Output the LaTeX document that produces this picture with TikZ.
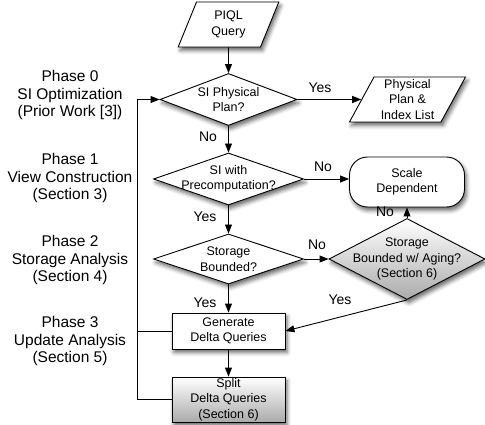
\documentclass[tikz,border=0pt]{standalone}
\usepackage{fontspec}
\setmainfont{Liberation Sans}
\usetikzlibrary{shapes.geometric,arrows.meta,shadows.blur}
\begin{document}
\begin{tikzpicture}[x=1pt,y=-1pt,
  every node/.style={font=\fontsize{12.5}{15.5}\selectfont, align=center, inner sep=0pt},
  shad/.style={blur shadow={shadow xshift=2pt,shadow yshift=-3.5pt,shadow blur radius=4pt,shadow opacity=60}},
  io/.style={trapezium, trapezium stretches=true, draw, fill=white, line width=0.9pt, shad},
  dia/.style={diamond, draw, fill=white, line width=0.9pt, shad},
  box/.style={rectangle, draw, fill=white, line width=0.9pt, shad},
  grad/.style={top color=white, bottom color=black!33},
  lbl/.style={font=\fontsize{14}{16}\selectfont},
  phase/.style={font=\fontsize{15.5}{17.5}\selectfont},
  arr/.style={line width=0.9pt, -{Triangle[length=9pt,width=7pt]}},
  ln/.style={line width=0.9pt}]

\useasboundingbox (0,0) rectangle (485,425);

% phases
\node[phase] (p0) at (70,95) {Phase 0\\SI Optimization\\(Prior Work [3])};
\node[phase] (p1) at (70,178) {Phase 1\\View Construction\\(Section 3)};
\node[phase] (p2) at (70,260) {Phase 2\\Storage Analysis\\(Section 4)};
\node[phase] (p3) at (70,341) {Phase 3\\Update Analysis\\(Section 5)};

% shapes
\node[io, trapezium left angle=70, trapezium right angle=110, minimum width=101pt, minimum height=45pt] (piql) at (228.5,24.5) {PIQL\\Query};
\node[dia, minimum width=137pt, minimum height=52pt] (d1) at (228.5,99.5) {};
\node (d1t) at (d1.center) {SI Physical\\Plan?};
\node[io, trapezium left angle=64, trapezium right angle=116, minimum width=117pt, minimum height=45pt] (pp) at (407.5,99.5) {Physical\\Plan \&\\Index List};
\node[dia, minimum width=150pt, minimum height=52pt] (d2) at (228.5,179) {};
\node (d2t) at (d2.center) {SI with\\Precomputation?};
\node[box, rounded corners=18pt, minimum width=115pt, minimum height=50pt] (sd) at (407,182) {Scale\\Dependent};
\node[dia, minimum width=150pt, minimum height=50pt] (d3) at (228.5,259) {};
\node (d3t) at (d3.center) {Storage\\Bounded?};
\node[dia, grad, minimum width=156pt, minimum height=81pt] (d4) at (407,259) {};
\node (d4t) at (d4.center) {Storage\\Bounded w/ Aging?\\(Section 6)};
\node[box, minimum width=113pt, minimum height=36pt] (gen) at (228.5,331) {Generate\\Delta Queries};
\node[box, grad, minimum width=113pt, minimum height=45pt] (split) at (228.5,399.5) {Split\\Delta Queries\\(Section 6)};

% connectors
\draw[arr] (piql.south) -- (d1.north);
\draw[arr] (d1.east) -- (pp.west);
\draw[arr] (d1.south) -- (d2.north);
\draw[arr] (d2.east) -- (d2.east -| sd.west);
\draw[arr] (d2.south) -- (d3.north);
\draw[arr] (d3.east) -- (d4.west);
\draw[arr] (d4.north) -- (sd.south);
\draw[arr] (d4.south) -- (gen.east);
\draw[arr] (d3.south) -- (gen.north);
\draw[arr] (gen.south) -- (split.north);
\coordinate (lp) at (137,99.5);
\draw[arr] (split.west) -| (lp) -- (d1.west);
\draw[ln] (gen.west) -- (gen.west -| lp);

% labels
\node[lbl] (y1) at (320,88) {Yes};
\node[lbl] (n1) at (208,137) {No};
\node[lbl] (n2) at (323,167) {No};
\node[lbl] (y2) at (205,217) {Yes};
\node[lbl] (n3) at (317,245) {No};
\node[lbl] (n4) at (385,212) {No};
\node[lbl] (y3) at (340,300) {Yes};
\node[lbl] (y4) at (205,303) {Yes};
\end{tikzpicture}
\end{document}
